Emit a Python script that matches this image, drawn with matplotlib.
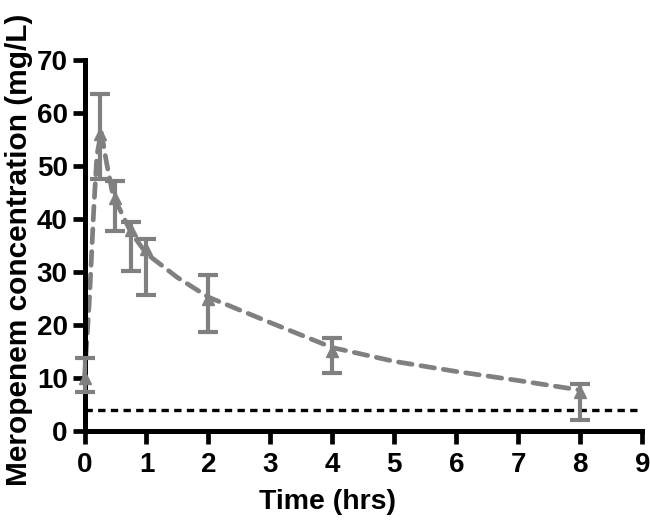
import matplotlib.pyplot as plt
import numpy as np

time_h = [0, 0.25, 0.5, 0.75, 1, 2, 4, 8]
conc = [10.0, 56.0, 44.0, 38.0, 34.3, 25.0, 15.2, 7.5]
err_low = [7.4, 47.6, 37.7, 30.3, 25.7, 18.7, 11.1, 2.1]
err_high = [13.9, 63.6, 47.1, 39.4, 36.2, 29.4, 17.7, 9.0]

# dashed model curve
curve_t = [0, 0.08, 0.15, 0.2, 0.27, 0.35, 0.45, 0.5, 0.75, 1.0, 1.5, 2, 3, 4, 5, 6, 7, 8]
curve_c = [10, 25, 42, 52, 56.5, 51, 45, 43.5, 37.5, 33.5, 29, 25.3, 20.5, 15.8, 13.2, 11.3, 9.6, 7.8]

mic = 4.0  # horizontal reference line
mic_t = [0, 8.95]

grey = '#808080'
font = ['Liberation Sans', 'DejaVu Sans']

fig = plt.figure(figsize=(6.5, 5.22), dpi=100)
ax = fig.add_axes([0.13, 0.1734, 0.858, 0.712])

ax.plot(mic_t, [mic, mic], color='black', lw=2.4, dashes=(2.2, 1.6),
        dash_capstyle='butt', zorder=1)
ax.plot(curve_t, curve_c, color=grey, lw=3.4, dashes=(2.9, 1.9),
        dash_capstyle='round', zorder=2, clip_on=False)

c = np.array(conc)
yerr = [c - np.array(err_low), np.array(err_high) - c]
ax.errorbar(time_h, conc, yerr=yerr, fmt='^', color=grey, ms=8,
            elinewidth=3, capsize=7, capthick=3, zorder=3, clip_on=False)

ax.set_xlim(0, 9)
ax.set_ylim(0, 70)
ax.set_xticks(range(0, 10))
ax.set_yticks(range(0, 80, 10))

for s in ['top', 'right']:
    ax.spines[s].set_visible(False)
for s in ['left', 'bottom']:
    ax.spines[s].set_linewidth(3.6)
ax.tick_params(width=3.4, length=9, direction='out')
ax.tick_params(axis='x', pad=6)
ax.tick_params(axis='y', pad=3)

for lab in ax.get_xticklabels() + ax.get_yticklabels():
    lab.set_fontfamily(font)
    lab.set_fontweight('bold')
    lab.set_fontsize(20)

ax.set_xlabel('Time (hrs)', family=font, fontweight='bold', fontsize=20.5)
ax.xaxis.set_label_coords(0.435, -0.155)
ax.set_ylabel('Meropenem concentration (mg/L)', family=font, fontweight='bold',
              fontsize=21.5)
ax.yaxis.set_label_coords(-0.093, 0.49)

fig.savefig('out.png', dpi=100)
